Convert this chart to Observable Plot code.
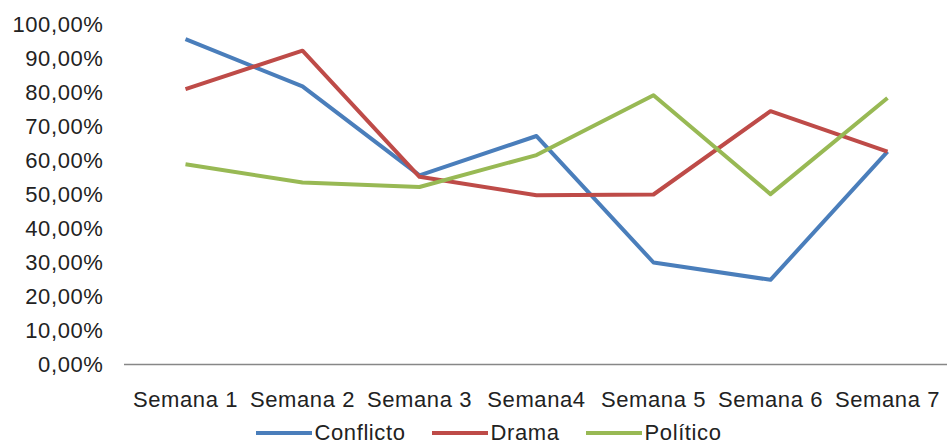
<!DOCTYPE html>
<html>
<head>
<meta charset="utf-8">
<script src="https://cdn.jsdelivr.net/npm/d3@7"></script>
<script src="https://cdn.jsdelivr.net/npm/@observablehq/plot@0.6"></script>
<style>
  body { margin: 0; background: #fff; font-family: "Liberation Sans", Arial, sans-serif; }
  #legend { display: flex; justify-content: center; align-items: center; height: 29px; font-size: 22px; letter-spacing: 0.6px; color: #222; padding-left: 30px; }
  .item { display: flex; align-items: center; margin: 0 13px; }
  .sw { width: 56px; height: 4px; margin-right: 3px; }
  svg text { letter-spacing: 0.6px; }
</style>
</head>
<body>
<div id="chart"></div>
<div id="legend"></div>
<script>
const weeks = ["Semana 1", "Semana 2", "Semana 3", "Semana4", "Semana 5", "Semana 6", "Semana 7"];
const seriesNames = ["Conflicto", "Drama", "Político"];
const conflicto = [95.7, 81.8, 55.6, 67.2, 30.0, 24.9, 62.6];
const drama = [81.0, 92.3, 55.2, 49.8, 50.0, 74.5, 62.6];
const politico = [58.9, 53.5, 52.2, 61.6, 79.2, 50.1, 78.4];
const yTicks = [0, 10, 20, 30, 40, 50, 60, 70, 80, 90, 100];
const colors = ["#4A7EBB", "#BE4B48", "#98B954"];

const valuesBySeries = [conflicto, drama, politico];
const rows = [];
seriesNames.forEach((s, i) => weeks.forEach((w, j) => rows.push({series: s, week: w, value: valuesBySeries[i][j]})));

const plot = Plot.plot({
  width: 947,
  height: 418,
  marginLeft: 124,
  marginRight: 0,
  marginTop: 24,
  marginBottom: 54,
  style: {fontFamily: "'Liberation Sans', Arial, sans-serif", fontSize: "22px", color: "#222", background: "#fff"},
  x: {type: "point", domain: weeks, padding: 0.5, label: null, tickSize: 0, tickPadding: 27},
  y: {domain: [0, 100], ticks: yTicks, label: null, tickSize: 0, tickPadding: 21,
      tickFormat: d => d.toFixed(2).replace(".", ",") + "%"},
  color: {domain: seriesNames, range: colors},
  marks: [
    Plot.ruleY([0], {stroke: "#878787", strokeWidth: 1.5}),
    Plot.line(rows, {x: "week", y: "value", z: "series", stroke: "series", strokeWidth: 4, strokeLinejoin: "round", strokeLinecap: "butt"})
  ]
});
document.getElementById("chart").appendChild(plot);

const legend = document.getElementById("legend");
seriesNames.forEach((s, i) => {
  const it = document.createElement("div");
  it.className = "item";
  const sw = document.createElement("div");
  sw.className = "sw";
  sw.style.background = colors[i];
  const t = document.createElement("span");
  t.textContent = s;
  it.appendChild(sw); it.appendChild(t);
  legend.appendChild(it);
});
</script>
</body>
</html>
